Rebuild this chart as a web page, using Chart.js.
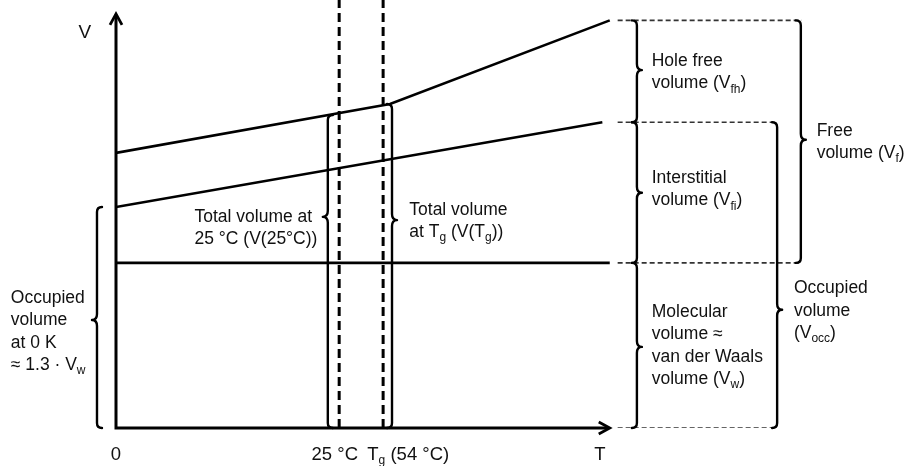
<!DOCTYPE html>
<html>
<head>
<meta charset="utf-8">
<script src="https://cdn.jsdelivr.net/npm/chart.js@4.4.1/dist/chart.umd.min.js"></script>
<style>
	html, body { margin: 0; padding: 0; background: #fff; }
	#chartContainer { width: 912px; height: 466px; }
</style>
</head>
<body>
<div id="chartContainer"><canvas id="volumeChart"></canvas></div>
<script>
// Schematic units: T runs 0..100 along the axis, V runs 0..100 up to the top line.
var totalT = [0, 55.5, 100];
var totalV = [67.5, 79.5, 100];
var interstitialT = [0, 98.5];
var interstitialV = [54.2, 75];
var occupiedT = [0, 100];
var occupiedV = [40.5, 40.5];

// 25 °C and Tg marker lines
var markerT = [45.2, 54.1];

// dotted continuations to the right of the plot
var guideLevels = [100, 75, 40.5, 0];
var guideStart = 101.6;
var guideEnd = [138.9, 133.5, 138.3, 133.9];

// curly braces: position, span, where the point sits and which way it points
var braceX = [-3.85, 42.9, 55.9, 105.5, 105.5, 105.5, 133.9, 138.7];
var braceFrom = [0, 0, 0, 75, 40.5, 0, 0, 40.5];
var braceTo = [54.2, 76.8, 79.5, 100, 75, 40.5, 75, 100];
var braceTip = [26.5, 51.8, 51, 87.8, 57.7, 19.9, 29, 70.7];
var braceSide = [-1, -1, 1, 1, 1, 1, 1, 1];

// label text, _{..} marks a subscript
var axisVText = ['V'];
var occupiedZeroText = ['Occupied', 'volume', 'at 0 K', '\u2248 1.3 \u00b7 V_{w}'];
var total25Text = ['Total volume at', '25 \u00b0C (V(25\u00b0C))'];
var totalTgText = ['Total volume', 'at T_{g} (V(T_{g}))'];
var holeText = ['Hole free', 'volume (V_{fh})'];
var interstitialText = ['Interstitial', 'volume (V_{fi})'];
var molecularText = ['Molecular', 'volume \u2248', 'van der Waals', 'volume (V_{w})'];
var occupiedText = ['Occupied', 'volume', '(V_{occ})'];
var freeText = ['Free', 'volume (V_{f})'];
var tickZero = ['0'];
var tick25 = ['25 \u00b0C'];
var tickTg = ['T_{g} (54 \u00b0C)'];
var axisTText = ['T'];

var FONT = '"Liberation Sans", Arial, sans-serif';
var INK = '#000';

var labels = [
	{ lines: axisVText, x: -6.3, y: 96.9, align: 'center', size: 19 },
	{ lines: occupiedZeroText, x: -21.3, y: 31.9, align: 'left', size: 17.5 },
	{ lines: total25Text, x: 15.9, y: 51.8, align: 'left', size: 17.5 },
	{ lines: totalTgText, x: 59.4, y: 53.5, align: 'left', size: 17.5 },
	{ lines: holeText, x: 108.5, y: 90.0, align: 'left', size: 17.5 },
	{ lines: interstitialText, x: 108.5, y: 61.3, align: 'left', size: 17.5 },
	{ lines: molecularText, x: 108.5, y: 28.5, align: 'left', size: 17.5 },
	{ lines: occupiedText, x: 137.3, y: 34.3, align: 'left', size: 17.5 },
	{ lines: freeText, x: 141.9, y: 72.9, align: 'left', size: 17.5 },
	{ lines: tickZero, x: 0, y: -6.6, align: 'center', size: 18.5 },
	{ lines: tick25, x: 39.6, y: -6.6, align: 'left', size: 18.5 },
	{ lines: tickTg, x: 50.9, y: -6.6, align: 'left', size: 18.5 },
	{ lines: axisTText, x: 98.0, y: -6.6, align: 'center', size: 18.5 }
];

function points(xs, ys) {
	return xs.map(function(x, i) {
		return { x: x, y: ys[i] };
	});
}

function splitRich(text) {
	var parts = [];
	var re = /_\{([^}]*)\}/g;
	var last = 0;
	var m;
	while ((m = re.exec(text))) {
		if (m.index > last) parts.push({ t: text.slice(last, m.index), sub: false });
		parts.push({ t: m[1], sub: true });
		last = re.lastIndex;
	}
	if (last < text.length) parts.push({ t: text.slice(last), sub: false });
	return parts;
}

function drawRich(ctx, text, x, y, size, align) {
	var parts = splitRich(text);
	var width = 0;
	parts.forEach(function(p) {
		p.font = (p.sub ? Math.round(size * 0.66) : size) + 'px ' + FONT;
		ctx.font = p.font;
		p.w = ctx.measureText(p.t).width;
		width += p.w;
	});
	var cx = align === 'center' ? x - width / 2 : x;
	parts.forEach(function(p) {
		ctx.font = p.font;
		ctx.fillText(p.t, cx, p.sub ? y + size * 0.32 : y);
		cx += p.w;
	});
}

function drawBrace(ctx, x, top, tip, bottom, dir) {
	var r = 5;
	ctx.beginPath();
	ctx.moveTo(x - r * dir, top);
	ctx.quadraticCurveTo(x, top, x, top + r);
	ctx.lineTo(x, tip - r - 1);
	ctx.quadraticCurveTo(x, tip, x + r * dir, tip);
	ctx.quadraticCurveTo(x, tip, x, tip + r + 1);
	ctx.lineTo(x, bottom - r);
	ctx.quadraticCurveTo(x, bottom, x - r * dir, bottom);
	ctx.stroke();
}

// axes with arrowheads, braces and all the labels
var schematicPlugin = {
	id: 'schematic',
	afterDatasetsDraw: function(chart) {
		var ctx = chart.ctx;
		var xs = chart.scales.x;
		var ys = chart.scales.y;
		var x0 = xs.getPixelForValue(0);
		var y0 = ys.getPixelForValue(0);
		var xEnd = xs.getPixelForValue(100);
		var yEnd = ys.getPixelForValue(101.6);

		ctx.save();
		ctx.strokeStyle = INK;
		ctx.lineCap = 'butt';
		ctx.lineJoin = 'miter';

		// axes
		ctx.lineWidth = 3;
		ctx.beginPath();
		ctx.moveTo(x0, yEnd + 1);
		ctx.lineTo(x0, y0);
		ctx.lineTo(xEnd - 1, y0);
		ctx.stroke();

		ctx.lineWidth = 2.8;
		ctx.beginPath();
		ctx.moveTo(x0 - 6, yEnd + 11);
		ctx.lineTo(x0, yEnd);
		ctx.lineTo(x0 + 6, yEnd + 11);
		ctx.moveTo(xEnd - 11, y0 - 6);
		ctx.lineTo(xEnd, y0);
		ctx.lineTo(xEnd - 11, y0 + 6);
		ctx.stroke();

		// braces
		ctx.lineWidth = 2.4;
		ctx.lineCap = 'round';
		ctx.lineJoin = 'round';
		for (var i = 0; i < braceX.length; i++) {
			drawBrace(ctx,
				xs.getPixelForValue(braceX[i]),
				ys.getPixelForValue(braceTo[i]),
				ys.getPixelForValue(braceTip[i]),
				ys.getPixelForValue(braceFrom[i]),
				braceSide[i]);
		}

		// labels
		ctx.fillStyle = '#111';
		ctx.textBaseline = 'middle';
		ctx.textAlign = 'left';
		labels.forEach(function(l) {
			var px = xs.getPixelForValue(l.x);
			var py = ys.getPixelForValue(l.y);
			l.lines.forEach(function(line, k) {
				drawRich(ctx, line, px, py + k * 22.5, l.size, l.align);
			});
		});
		ctx.restore();
	}
};

var datasets = [
	{ data: points(totalT, totalV), borderColor: INK, borderWidth: 2.6 },
	{ data: points(interstitialT, interstitialV), borderColor: INK, borderWidth: 2.6 },
	{ data: points(occupiedT, occupiedV), borderColor: INK, borderWidth: 2.6 }
];

markerT.forEach(function(t) {
	datasets.push({
		data: [{ x: t, y: 0 }, { x: t, y: 105 }],
		borderColor: INK,
		borderWidth: 3,
		borderDash: [9, 5]
	});
});

guideLevels.forEach(function(v, i) {
	datasets.push({
		data: [{ x: guideStart, y: v }, { x: guideEnd[i], y: v }],
		borderColor: '#333',
		borderWidth: 1.6,
		borderDash: [5, 3]
	});
});

datasets.forEach(function(d) {
	d.pointRadius = 0;
	d.fill = false;
	d.tension = 0;
});

// eslint-disable-next-line no-undef
var chart = new Chart(document.getElementById('volumeChart'), {
	type: 'line',
	data: { datasets: datasets },
	options: {
		responsive: true,
		maintainAspectRatio: false,
		animation: false,
		events: [],
		layout: {
			padding: { left: 116, right: 6, top: 0, bottom: 38 }
		},
		scales: {
			x: { type: 'linear', min: 0, max: 160, display: false },
			y: { type: 'linear', min: 0, max: 105, display: false }
		},
		plugins: {
			legend: { display: false },
			tooltip: { enabled: false }
		}
	},
	plugins: [schematicPlugin]
});
</script>
</body>
</html>
